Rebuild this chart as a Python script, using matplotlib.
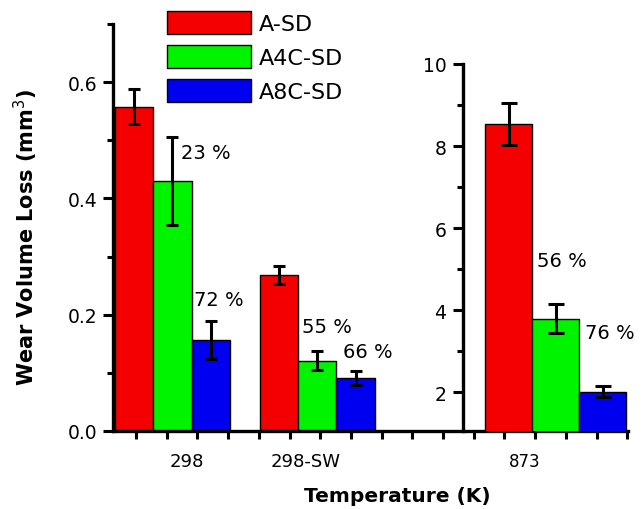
import numpy as np
import matplotlib
matplotlib.use("Agg")
import matplotlib.pyplot as plt

# wear volume loss (mm^3) for each coating at each test temperature
series = ["A-SD", "A4C-SD", "A8C-SD"]
colors = ["#f40000", "#00f400", "#0000f0"]

# 298 K and 298 K sea water
low_temps = ["298", "298-SW"]
low_vals = [[0.558, 0.268], [0.430, 0.121], [0.156, 0.091]]
low_errs = [[0.030, 0.016], [0.076, 0.016], [0.033, 0.012]]

# 873 K
high_vals = [8.54, 3.79, 2.01]
high_errs = [0.51, 0.36, 0.14]

# wear reduction relative to A-SD
low_pct = [["23 %", "72 %"], ["55 %", "66 %"]]
high_pct = ["56 %", "76 %"]

plt.rcParams["font.family"] = "DejaVu Sans"

fig = plt.figure(figsize=(6.44, 5.10), dpi=100)
W, H = 644, 510

def px_box(x0, y0, x1, y1):
    return [x0 / W, 1 - y1 / H, (x1 - x0) / W, (y1 - y0) / H]

ax = fig.add_axes(px_box(113, 25, 628, 432))
ax2 = fig.add_axes(px_box(463, 65, 628, 432))
ax2.patch.set_alpha(0)

width = 1.0
centers = [1.55, 5.32]
bars = []
for i, (vals, errs) in enumerate(zip(low_vals, low_errs)):
    xs = [c + (i - 1) * width for c in centers]
    b = ax.bar(xs, vals, width, color=colors[i], edgecolor="black",
               linewidth=1.0, label=series[i], zorder=2)
    ax.errorbar(xs, vals, yerr=errs, fmt="none", ecolor="black",
                elinewidth=2.2, capsize=4, capthick=2.2, zorder=3)
    bars.append(b)

hc = 1.97
hx = [hc + (i - 1) * width for i in range(3)]
ax2.bar(hx, high_vals, width, color=colors, edgecolor="black",
        linewidth=1.0, zorder=2)
ax2.errorbar(hx, high_vals, yerr=high_errs, fmt="none", ecolor="black",
             elinewidth=2.2, capsize=6, capthick=2.2, zorder=3)

# percentage labels next to the bars
pct_kw = dict(fontsize=14, va="center", ha="left")
ax.text(centers[0] + 0.23, 0.479, low_pct[0][0], **pct_kw)
ax.text(centers[0] + 1 - 0.45, 0.227, low_pct[0][1], **pct_kw)
ax.text(centers[1] - 0.39, 0.180, low_pct[1][0], **pct_kw)
ax.text(centers[1] + 1 - 0.32, 0.136, low_pct[1][1], **pct_kw)
ax2.text(hc - 0.40, 5.2, high_pct[0], **pct_kw)
ax2.text(hc + 1 - 0.37, 3.46, high_pct[1], **pct_kw)

# main axes: left scale and the shared temperature axis
ax.set_xlim(0, 13.42)
ax.set_ylim(0, 0.7)
ax.spines[["top", "right"]].set_visible(False)
ax.spines["left"].set_linewidth(2.4)
ax.spines["bottom"].set_linewidth(2.4)
ax.set_yticks([0.0, 0.2, 0.4, 0.6])
ax.set_yticklabels(["0.0", "0.2", "0.4", "0.6"])
ax.set_yticks([0.1, 0.3, 0.5, 0.7], minor=True)
ax.tick_params(axis="y", which="major", direction="out", length=7,
               width=2.2, labelsize=13.5, pad=4)
ax.tick_params(axis="y", which="minor", direction="out", length=4,
               width=2.2)

ax.set_xticks([1.92, 5.01, 10.73])
ax.set_xticklabels(["298", "298-SW", "873"])
ax.set_xticks(0.6 + 0.8 * np.arange(17), minor=True)
ax.tick_params(axis="x", which="major", length=0, labelsize=13, pad=15)
ax.tick_params(axis="x", which="minor", direction="out", length=6,
               width=2.2)
ax.get_xticklabels()[2].set_fontsize(12)

ax.set_ylabel("Wear Volume Loss (mm$^3$)", fontsize=15, fontweight="bold")
ax.yaxis.set_label_coords(-0.142, 0.479)
ax.set_xlabel("Temperature (K)", fontsize=14.5, fontweight="bold")
ax.xaxis.set_label_coords(0.553, -0.135)

# inset axes for the 873 K scale
ax2.set_xlim(0, 3.51)
ax2.set_ylim(1.05, 10)
ax2.spines[["top", "right", "bottom"]].set_visible(False)
ax2.spines["left"].set_linewidth(2.4)
ax2.set_xticks([])
ax2.set_yticks([2, 4, 6, 8, 10])
ax2.set_yticks([3, 5, 7, 9], minor=True)
ax2.tick_params(axis="y", which="major", direction="out", length=7,
                width=2.2, labelsize=13.5, pad=5)
ax2.tick_params(axis="y", which="minor", direction="out", length=4,
                width=2.2)

fs = 16 * 100 / 72
fig.legend(handles=bars, labels=series, loc="upper left",
           bbox_to_anchor=(167 / W, 1 - 12 / H), frameon=False,
           fontsize=16, handlelength=84 / fs, handleheight=27 / fs,
           labelspacing=11 / fs, handletextpad=0.35, borderpad=0,
           borderaxespad=0)

fig.savefig("out.png", dpi=100)
